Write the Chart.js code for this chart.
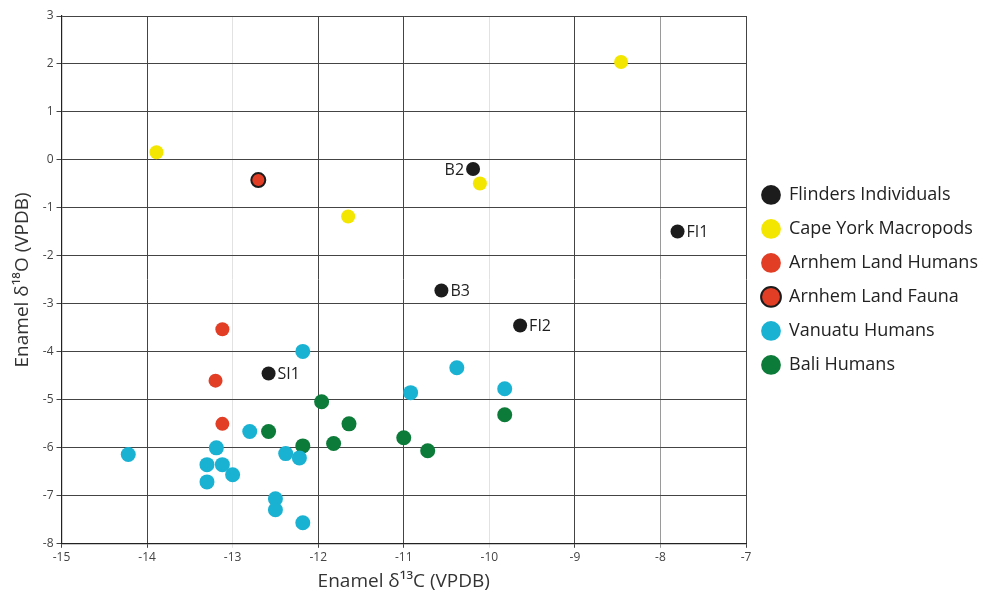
<!DOCTYPE html>
<html>
<head>
<meta charset="utf-8">
<script src="https://cdn.jsdelivr.net/npm/chart.js@4.4.1/dist/chart.umd.min.js"></script>
<style>
  body { margin: 0; background: #fff; }
  #wrap { width: 984px; height: 596px; }
</style>
</head>
<body>
<div id="wrap"><canvas id="mychart" width="984" height="596"></canvas></div>
<script>
// --- data ---
const flindersNames = ["B2", "FI1", "B3", "FI2", "SI1"];
const flindersX = [-10.19, -7.80, -10.56, -9.64, -12.58];
const flindersY = [-0.19, -1.49, -2.72, -3.45, -4.45];

const capeYorkX = [-13.89, -8.46, -10.11, -11.65];
const capeYorkY = [0.16, 2.04, -0.49, -1.18];

const arnhemHumX = [-13.12, -13.20, -13.12];
const arnhemHumY = [-3.53, -4.60, -5.50];

const arnhemFaunaX = [-12.70];
const arnhemFaunaY = [-0.42];

const vanuatuX = [-12.18, -14.22, -12.80, -13.19, -13.30, -13.12, -13.30, -13.00, -12.38, -12.22, -12.50, -12.50, -12.18, -10.38, -10.92, -9.82];
const vanuatuY = [-3.99, -6.14, -5.66, -6.00, -6.35, -6.35, -6.71, -6.56, -6.12, -6.21, -7.06, -7.29, -7.56, -4.33, -4.85, -4.77];

const baliX = [-11.96, -12.58, -12.18, -11.82, -11.64, -11.00, -10.72, -9.82];
const baliY = [-5.04, -5.66, -5.96, -5.91, -5.50, -5.79, -6.06, -5.31];

const xTicks = [-15, -14, -13, -12, -11, -10, -9, -8, -7];
const yTicks = [3, 2, 1, 0, -1, -2, -3, -4, -5, -6, -7, -8];

function pts(xs, ys) {
  return xs.map((x, i) => ({ x: x, y: ys[i] }));
}

const FONT = "'Open Sans', 'Noto Sans', sans-serif";

// labels next to the Flinders points
const pointLabels = {
  id: 'pointLabels',
  afterDatasetsDraw(chart) {
    const meta = chart.getDatasetMeta(0);
    const ctx = chart.ctx;
    ctx.save();
    ctx.font = "16px " + FONT;
    ctx.fillStyle = "#1e1e1e";
    ctx.textBaseline = "middle";
    meta.data.forEach((el, i) => {
      const name = flindersNames[i];
      if (name === "B2") {
        ctx.textAlign = "right";
        ctx.fillText(name, el.x - 9, el.y + 1);
      } else {
        ctx.textAlign = "left";
        ctx.fillText(name, el.x + 9, el.y + 1);
      }
    });
    ctx.restore();
  }
};

// give the legend a fixed width on the right
const legendWidth = {
  id: 'legendWidth',
  beforeInit(chart) {
    const fit = chart.legend.fit;
    chart.legend.fit = function() {
      fit.bind(chart.legend)();
      this.width = 238;
    };
  }
};

const gridColor = function(ctx) {
  if (!ctx.tick) return '#444';
  const v = ctx.tick.value;
  if (v === -13 || v === -10) return '#e2e2e2';
  if (v === -8) return '#9a9a9a';
  return '#444';
};

const chart = document.getElementById('mychart').getContext('2d');
const myChart = new Chart(chart, {
  type: 'scatter',
  data: {
    datasets: [
      { label: 'Flinders Individuals', data: pts(flindersX, flindersY), backgroundColor: '#1c1c1c', borderWidth: 0, pointRadius: 7 },
      { label: 'Cape York Macropods', data: pts(capeYorkX, capeYorkY), backgroundColor: '#f3e600', borderWidth: 0, pointRadius: 7 },
      { label: 'Arnhem Land Humans', data: pts(arnhemHumX, arnhemHumY), backgroundColor: '#e23d25', borderWidth: 0, pointRadius: 7 },
      { label: 'Arnhem Land Fauna', data: pts(arnhemFaunaX, arnhemFaunaY), backgroundColor: '#e23d25', borderColor: '#1c1c1c', borderWidth: 2, pointRadius: 7 },
      { label: 'Vanuatu Humans', data: pts(vanuatuX, vanuatuY), backgroundColor: '#1ab2d3', borderWidth: 0, pointRadius: 7.5 },
      { label: 'Bali Humans', data: pts(baliX, baliY), backgroundColor: '#0c7a38', borderWidth: 0, pointRadius: 7.5 }
    ]
  },
  options: {
    responsive: false,
    animation: false,
    layout: { padding: { top: 16, left: 7, bottom: 3, right: 0 } },
    scales: {
      x: {
        type: 'linear',
        min: -15, max: -7,
        afterBuildTicks: axis => { axis.ticks = xTicks.map(v => ({ value: v })); },
        grid: { color: gridColor, tickLength: 4, lineWidth: 1 },
        border: { color: '#222', width: 1.2 },
        ticks: { color: '#444', font: { family: FONT, size: 12 }, padding: 3 },
        title: { display: true, text: 'Enamel δ¹³C (VPDB)', color: '#333', font: { family: FONT, size: 19 }, padding: { top: 2, bottom: 0 } }
      },
      y: {
        type: 'linear',
        min: -8, max: 3,
        afterBuildTicks: axis => { axis.ticks = yTicks.map(v => ({ value: v })); },
        grid: { color: '#444', tickLength: 5, lineWidth: 1 },
        border: { color: '#222', width: 1.2 },
        ticks: { color: '#444', font: { family: FONT, size: 12 }, padding: 3 },
        title: { display: true, text: 'Enamel δ¹⁸O (VPDB)', color: '#333', font: { family: FONT, size: 19 }, padding: { top: 4, bottom: 6 } }
      }
    },
    plugins: {
      tooltip: { enabled: false },
      legend: {
        position: 'right',
        align: 'center',
        fullSize: false,
        labels: {
          usePointStyle: true,
          pointStyle: 'circle',
          boxHeight: 14,
          padding: 16,
          color: '#222',
          font: { family: FONT, size: 18 }
        }
      }
    }
  },
  plugins: [pointLabels, legendWidth]
});
</script>
</body>
</html>
